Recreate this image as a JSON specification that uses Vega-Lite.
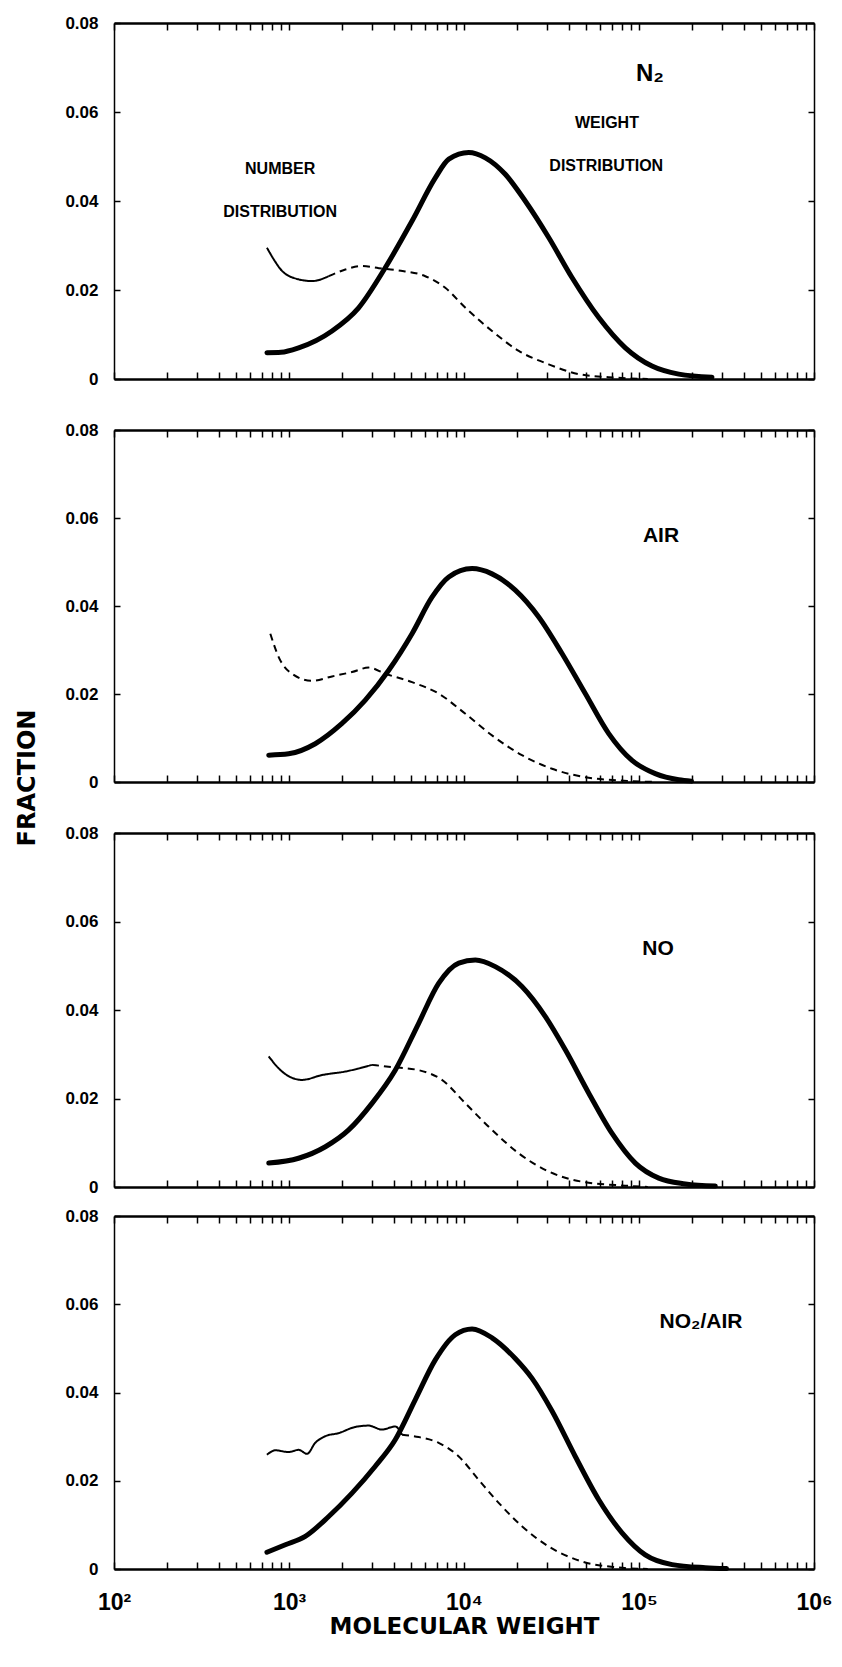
{
  "$schema": "https://vega.github.io/schema/vega-lite/v6.json",
  "background": "white",
  "padding": {"left": 15, "top": 14, "right": 5, "bottom": 5},
  "title": {"text": "FRACTION", "orient": "left", "anchor": "middle", "font": "DejaVu Sans", "fontSize": 24, "fontWeight": "bold", "color": "black", "offset": 25, "dx": 48},
  "config": {
    "view": {"stroke": null},
    "axis": {"grid": false, "domainColor": "black", "tickColor": "black", "labelColor": "black", "titleColor": "black", "labelFont": "Liberation Sans", "titleFont": "DejaVu Sans", "labelFontWeight": "bold", "titleFontWeight": "bold"},
    "text": {"color": "black"}
  },
  "datasets": {
    "curves": [
      {"gas":"N2","series":"weight","part":"solid","mw":748,"fraction":0.0059},
      {"gas":"N2","series":"weight","part":"solid","mw":900,"fraction":0.0060},
      {"gas":"N2","series":"weight","part":"solid","mw":1135,"fraction":0.0070},
      {"gas":"N2","series":"weight","part":"solid","mw":1762,"fraction":0.0108},
      {"gas":"N2","series":"weight","part":"solid","mw":2500,"fraction":0.016},
      {"gas":"N2","series":"weight","part":"solid","mw":3548,"fraction":0.025},
      {"gas":"N2","series":"weight","part":"solid","mw":5047,"fraction":0.0355},
      {"gas":"N2","series":"weight","part":"solid","mw":6855,"fraction":0.0452},
      {"gas":"N2","series":"weight","part":"solid","mw":8185,"fraction":0.0494},
      {"gas":"N2","series":"weight","part":"solid","mw":10641,"fraction":0.0509},
      {"gas":"N2","series":"weight","part":"solid","mw":13243,"fraction":0.0497},
      {"gas":"N2","series":"weight","part":"solid","mw":17219,"fraction":0.046},
      {"gas":"N2","series":"weight","part":"solid","mw":22387,"fraction":0.040},
      {"gas":"N2","series":"weight","part":"solid","mw":30479,"fraction":0.0318},
      {"gas":"N2","series":"weight","part":"solid","mw":41400,"fraction":0.0228},
      {"gas":"N2","series":"weight","part":"solid","mw":58884,"fraction":0.0138},
      {"gas":"N2","series":"weight","part":"solid","mw":83560,"fraction":0.0070},
      {"gas":"N2","series":"weight","part":"solid","mw":118577,"fraction":0.0029},
      {"gas":"N2","series":"weight","part":"solid","mw":168655,"fraction":0.0011},
      {"gas":"N2","series":"weight","part":"solid","mw":261216,"fraction":0.0004},
      {"gas":"N2","series":"number","part":"solid","mw":748,"fraction":0.0295},
      {"gas":"N2","series":"number","part":"solid","mw":830,"fraction":0.0265},
      {"gas":"N2","series":"number","part":"solid","mw":912,"fraction":0.0243},
      {"gas":"N2","series":"number","part":"solid","mw":1135,"fraction":0.0224},
      {"gas":"N2","series":"number","part":"solid","mw":1352,"fraction":0.022},
      {"gas":"N2","series":"number","part":"solid","mw":1686,"fraction":0.0231},
      {"gas":"N2","series":"number","part":"dashed","mw":1686,"fraction":0.0231},
      {"gas":"N2","series":"number","part":"dashed","mw":2099,"fraction":0.0246},
      {"gas":"N2","series":"number","part":"dashed","mw":2612,"fraction":0.0254},
      {"gas":"N2","series":"number","part":"dashed","mw":3258,"fraction":0.0249},
      {"gas":"N2","series":"number","part":"dashed","mw":4236,"fraction":0.0244},
      {"gas":"N2","series":"number","part":"dashed","mw":6012,"fraction":0.0231},
      {"gas":"N2","series":"number","part":"dashed","mw":7816,"fraction":0.0205},
      {"gas":"N2","series":"number","part":"dashed","mw":10186,"fraction":0.016},
      {"gas":"N2","series":"number","part":"dashed","mw":14454,"fraction":0.0108},
      {"gas":"N2","series":"number","part":"dashed","mw":20559,"fraction":0.0063},
      {"gas":"N2","series":"number","part":"dashed","mw":30479,"fraction":0.0033},
      {"gas":"N2","series":"number","part":"dashed","mw":45186,"fraction":0.0011},
      {"gas":"N2","series":"number","part":"dashed","mw":73282,"fraction":0.0003},
      {"gas":"N2","series":"number","part":"dashed","mw":112202,"fraction":0.0},
      {"gas":"AIR","series":"weight","part":"solid","mw":766,"fraction":0.0061},
      {"gas":"AIR","series":"weight","part":"solid","mw":995,"fraction":0.0064},
      {"gas":"AIR","series":"weight","part":"solid","mw":1413,"fraction":0.0087},
      {"gas":"AIR","series":"weight","part":"solid","mw":2009,"fraction":0.0133},
      {"gas":"AIR","series":"weight","part":"solid","mw":2729,"fraction":0.0186},
      {"gas":"AIR","series":"weight","part":"solid","mw":3715,"fraction":0.0254},
      {"gas":"AIR","series":"weight","part":"solid","mw":5047,"fraction":0.0337},
      {"gas":"AIR","series":"weight","part":"solid","mw":6561,"fraction":0.042},
      {"gas":"AIR","series":"weight","part":"solid","mw":8185,"fraction":0.0466},
      {"gas":"AIR","series":"weight","part":"solid","mw":11117,"fraction":0.0485},
      {"gas":"AIR","series":"weight","part":"solid","mw":14454,"fraction":0.0473},
      {"gas":"AIR","series":"weight","part":"solid","mw":19634,"fraction":0.0436},
      {"gas":"AIR","series":"weight","part":"solid","mw":26730,"fraction":0.0375},
      {"gas":"AIR","series":"weight","part":"solid","mw":36308,"fraction":0.0292},
      {"gas":"AIR","series":"weight","part":"solid","mw":49317,"fraction":0.0201},
      {"gas":"AIR","series":"weight","part":"solid","mw":67143,"fraction":0.011},
      {"gas":"AIR","series":"weight","part":"solid","mw":91201,"fraction":0.0049},
      {"gas":"AIR","series":"weight","part":"solid","mw":123880,"fraction":0.0019},
      {"gas":"AIR","series":"weight","part":"solid","mw":168655,"fraction":0.0005},
      {"gas":"AIR","series":"weight","part":"solid","mw":199526,"fraction":0.0002},
      {"gas":"AIR","series":"number","part":"dashed","mw":782,"fraction":0.0337},
      {"gas":"AIR","series":"number","part":"dashed","mw":873,"fraction":0.0284},
      {"gas":"AIR","series":"number","part":"dashed","mw":1040,"fraction":0.0246},
      {"gas":"AIR","series":"number","part":"dashed","mw":1352,"fraction":0.023},
      {"gas":"AIR","series":"number","part":"dashed","mw":1762,"fraction":0.024},
      {"gas":"AIR","series":"number","part":"dashed","mw":2291,"fraction":0.025},
      {"gas":"AIR","series":"number","part":"dashed","mw":2851,"fraction":0.026},
      {"gas":"AIR","series":"number","part":"dashed","mw":3548,"fraction":0.0246},
      {"gas":"AIR","series":"number","part":"dashed","mw":5047,"fraction":0.0227},
      {"gas":"AIR","series":"number","part":"dashed","mw":7161,"fraction":0.0201},
      {"gas":"AIR","series":"number","part":"dashed","mw":10186,"fraction":0.0155},
      {"gas":"AIR","series":"number","part":"dashed","mw":14454,"fraction":0.0106},
      {"gas":"AIR","series":"number","part":"dashed","mw":21429,"fraction":0.0061},
      {"gas":"AIR","series":"number","part":"dashed","mw":31842,"fraction":0.003},
      {"gas":"AIR","series":"number","part":"dashed","mw":49317,"fraction":0.0011},
      {"gas":"AIR","series":"number","part":"dashed","mw":91201,"fraction":0.0002},
      {"gas":"AIR","series":"number","part":"dashed","mw":125893,"fraction":0.0},
      {"gas":"NO","series":"weight","part":"solid","mw":766,"fraction":0.0054},
      {"gas":"NO","series":"weight","part":"solid","mw":1135,"fraction":0.0065},
      {"gas":"NO","series":"weight","part":"solid","mw":1614,"fraction":0.0091},
      {"gas":"NO","series":"weight","part":"solid","mw":2193,"fraction":0.0129},
      {"gas":"NO","series":"weight","part":"solid","mw":2979,"fraction":0.0189},
      {"gas":"NO","series":"weight","part":"solid","mw":4046,"fraction":0.0264},
      {"gas":"NO","series":"weight","part":"solid","mw":5508,"fraction":0.037},
      {"gas":"NO","series":"weight","part":"solid","mw":7161,"fraction":0.046},
      {"gas":"NO","series":"weight","part":"solid","mw":9333,"fraction":0.0506},
      {"gas":"NO","series":"weight","part":"solid","mw":11614,"fraction":0.0513},
      {"gas":"NO","series":"weight","part":"solid","mw":15101,"fraction":0.0498},
      {"gas":"NO","series":"weight","part":"solid","mw":21429,"fraction":0.0453},
      {"gas":"NO","series":"weight","part":"solid","mw":29174,"fraction":0.0385},
      {"gas":"NO","series":"weight","part":"solid","mw":37931,"fraction":0.031},
      {"gas":"NO","series":"weight","part":"solid","mw":51642,"fraction":0.0212},
      {"gas":"NO","series":"weight","part":"solid","mw":70146,"fraction":0.0121},
      {"gas":"NO","series":"weight","part":"solid","mw":95280,"fraction":0.0054},
      {"gas":"NO","series":"weight","part":"solid","mw":129718,"fraction":0.002},
      {"gas":"NO","series":"weight","part":"solid","mw":184077,"fraction":0.0007},
      {"gas":"NO","series":"weight","part":"solid","mw":272898,"fraction":0.0002},
      {"gas":"NO","series":"number","part":"solid","mw":766,"fraction":0.0295},
      {"gas":"NO","series":"number","part":"solid","mw":912,"fraction":0.0261},
      {"gas":"NO","series":"number","part":"solid","mw":1186,"fraction":0.0242},
      {"gas":"NO","series":"number","part":"solid","mw":1545,"fraction":0.0253},
      {"gas":"NO","series":"number","part":"solid","mw":2099,"fraction":0.0261},
      {"gas":"NO","series":"number","part":"solid","mw":2979,"fraction":0.0276},
      {"gas":"NO","series":"number","part":"dashed","mw":2979,"fraction":0.0276},
      {"gas":"NO","series":"number","part":"dashed","mw":3882,"fraction":0.0271},
      {"gas":"NO","series":"number","part":"dashed","mw":5508,"fraction":0.0264},
      {"gas":"NO","series":"number","part":"dashed","mw":7482,"fraction":0.0242},
      {"gas":"NO","series":"number","part":"dashed","mw":10186,"fraction":0.0189},
      {"gas":"NO","series":"number","part":"dashed","mw":14454,"fraction":0.0129},
      {"gas":"NO","series":"number","part":"dashed","mw":20559,"fraction":0.0076},
      {"gas":"NO","series":"number","part":"dashed","mw":30479,"fraction":0.0035},
      {"gas":"NO","series":"number","part":"dashed","mw":47206,"fraction":0.0012},
      {"gas":"NO","series":"number","part":"dashed","mw":83560,"fraction":0.0003},
      {"gas":"NO","series":"number","part":"dashed","mw":112202,"fraction":0.0},
      {"gas":"NO2/AIR","series":"weight","part":"solid","mw":748,"fraction":0.0038},
      {"gas":"NO2/AIR","series":"weight","part":"solid","mw":953,"fraction":0.0055},
      {"gas":"NO2/AIR","series":"weight","part":"solid","mw":1239,"fraction":0.0074},
      {"gas":"NO2/AIR","series":"weight","part":"solid","mw":1686,"fraction":0.0119},
      {"gas":"NO2/AIR","series":"weight","part":"solid","mw":2291,"fraction":0.0172},
      {"gas":"NO2/AIR","series":"weight","part":"solid","mw":3112,"fraction":0.0233},
      {"gas":"NO2/AIR","series":"weight","part":"solid","mw":4046,"fraction":0.0293},
      {"gas":"NO2/AIR","series":"weight","part":"solid","mw":5272,"fraction":0.0384},
      {"gas":"NO2/AIR","series":"weight","part":"solid","mw":6855,"fraction":0.0474},
      {"gas":"NO2/AIR","series":"weight","part":"solid","mw":8913,"fraction":0.0531},
      {"gas":"NO2/AIR","series":"weight","part":"solid","mw":11117,"fraction":0.0544},
      {"gas":"NO2/AIR","series":"weight","part":"solid","mw":14454,"fraction":0.0524},
      {"gas":"NO2/AIR","series":"weight","part":"solid","mw":19634,"fraction":0.0477},
      {"gas":"NO2/AIR","series":"weight","part":"solid","mw":24491,"fraction":0.0432},
      {"gas":"NO2/AIR","series":"weight","part":"solid","mw":31842,"fraction":0.0358},
      {"gas":"NO2/AIR","series":"weight","part":"solid","mw":43251,"fraction":0.0255},
      {"gas":"NO2/AIR","series":"weight","part":"solid","mw":58884,"fraction":0.0157},
      {"gas":"NO2/AIR","series":"weight","part":"solid","mw":79983,"fraction":0.0082},
      {"gas":"NO2/AIR","series":"weight","part":"solid","mw":108643,"fraction":0.0032},
      {"gas":"NO2/AIR","series":"weight","part":"solid","mw":154525,"fraction":0.001},
      {"gas":"NO2/AIR","series":"weight","part":"solid","mw":239332,"fraction":0.0003},
      {"gas":"NO2/AIR","series":"weight","part":"solid","mw":316228,"fraction":0.0001},
      {"gas":"NO2/AIR","series":"number","part":"solid","mw":748,"fraction":0.0259},
      {"gas":"NO2/AIR","series":"number","part":"solid","mw":836,"fraction":0.0269},
      {"gas":"NO2/AIR","series":"number","part":"solid","mw":995,"fraction":0.0265},
      {"gas":"NO2/AIR","series":"number","part":"solid","mw":1135,"fraction":0.027},
      {"gas":"NO2/AIR","series":"number","part":"solid","mw":1268,"fraction":0.0261},
      {"gas":"NO2/AIR","series":"number","part":"solid","mw":1413,"fraction":0.0286},
      {"gas":"NO2/AIR","series":"number","part":"solid","mw":1614,"fraction":0.0301},
      {"gas":"NO2/AIR","series":"number","part":"solid","mw":1923,"fraction":0.0308},
      {"gas":"NO2/AIR","series":"number","part":"solid","mw":2393,"fraction":0.0322},
      {"gas":"NO2/AIR","series":"number","part":"solid","mw":2851,"fraction":0.0325},
      {"gas":"NO2/AIR","series":"number","part":"solid","mw":3396,"fraction":0.0316},
      {"gas":"NO2/AIR","series":"number","part":"solid","mw":4046,"fraction":0.0323},
      {"gas":"NO2/AIR","series":"number","part":"solid","mw":4426,"fraction":0.0304},
      {"gas":"NO2/AIR","series":"number","part":"dashed","mw":4426,"fraction":0.0304},
      {"gas":"NO2/AIR","series":"number","part":"dashed","mw":5508,"fraction":0.0299},
      {"gas":"NO2/AIR","series":"number","part":"dashed","mw":7161,"fraction":0.0286},
      {"gas":"NO2/AIR","series":"number","part":"dashed","mw":9333,"fraction":0.0255},
      {"gas":"NO2/AIR","series":"number","part":"dashed","mw":12134,"fraction":0.0202},
      {"gas":"NO2/AIR","series":"number","part":"dashed","mw":15776,"fraction":0.015},
      {"gas":"NO2/AIR","series":"number","part":"dashed","mw":21429,"fraction":0.0097},
      {"gas":"NO2/AIR","series":"number","part":"dashed","mw":30479,"fraction":0.0051},
      {"gas":"NO2/AIR","series":"number","part":"dashed","mw":47206,"fraction":0.0017},
      {"gas":"NO2/AIR","series":"number","part":"dashed","mw":73282,"fraction":0.0004},
      {"gas":"NO2/AIR","series":"number","part":"dashed","mw":112202,"fraction":0.0}
    ],
    "labels": [
      {"gas":"N2","kind":"gas","text":"N₂","mw":115600,"fraction":0.0685},
      {"gas":"N2","kind":"note","text":"WEIGHT","mw":65600,"fraction":0.0575},
      {"gas":"N2","kind":"note","text":"DISTRIBUTION","mw":65000,"fraction":0.0479},
      {"gas":"N2","kind":"note","text":"NUMBER","mw":890,"fraction":0.0472},
      {"gas":"N2","kind":"note","text":"DISTRIBUTION","mw":890,"fraction":0.0375},
      {"gas":"AIR","kind":"gas","text":"AIR","mw":133600,"fraction":0.0559},
      {"gas":"NO","kind":"gas","text":"NO","mw":128600,"fraction":0.0538},
      {"gas":"NO2/AIR","kind":"gas","text":"NO₂/AIR","mw":226000,"fraction":0.056}
    ]
  },
  "vconcat": [
    {
      "spacing": 33,
      "vconcat": [
        {
          "width": 700, "height": 356,
          "layer": [
            {"data": {"name": "curves"}, "transform": [{"filter": "datum.gas === 'N2' && datum.series === 'weight'"}],
             "mark": {"type": "line", "color": "black", "strokeWidth": 5, "strokeCap": "round", "interpolate": "monotone"},
             "encoding": {
               "x": {"field": "mw", "type": "quantitative", "scale": {"type": "log", "domain": [100, 1000000], "nice": false},
                     "axis": {"orient": "bottom", "values": [100,200,300,400,500,600,700,800,900,1000,2000,3000,4000,5000,6000,7000,8000,9000,10000,20000,30000,40000,50000,60000,70000,80000,90000,100000,200000,300000,400000,500000,600000,700000,800000,900000,1000000], "tickSize": -7, "tickWidth": 1.5, "domainWidth": 2.5, "labels": false, "title": null}},
               "y": {"field": "fraction", "type": "quantitative", "scale": {"domain": [0, 0.08], "nice": false, "zero": false},
                     "axis": {"orient": "left", "values": [0, 0.02, 0.04, 0.06, 0.08], "tickSize": -6, "tickWidth": 1.5, "domainWidth": 1.5, "labelExpr": "datum.value == 0 ? '0' : format(datum.value, '.2f')", "labelFontSize": 17, "labelPadding": 22, "title": null}}
             }},
            {"data": {"name": "curves"}, "transform": [{"filter": "datum.gas === 'N2' && datum.series === 'number'"}],
             "mark": {"type": "line", "color": "black", "strokeWidth": 2, "interpolate": "monotone"},
             "encoding": {
               "x": {"field": "mw", "type": "quantitative", "scale": {"type": "log", "domain": [100, 1000000], "nice": false},
                     "axis": {"orient": "top", "values": [100,200,300,400,500,600,700,800,900,1000,2000,3000,4000,5000,6000,7000,8000,9000,10000,20000,30000,40000,50000,60000,70000,80000,90000,100000,200000,300000,400000,500000,600000,700000,800000,900000,1000000], "tickSize": -7, "tickWidth": 1.5, "domainWidth": 2.5, "labels": false, "title": null}},
               "y": {"field": "fraction", "type": "quantitative", "scale": {"domain": [0, 0.08], "nice": false, "zero": false},
                     "axis": {"orient": "right", "values": [0, 0.02, 0.04, 0.06, 0.08], "tickSize": -6, "tickWidth": 1.5, "domainWidth": 1.5, "labels": false, "title": null}},
               "strokeDash": {"field": "part", "type": "nominal", "scale": {"domain": ["solid", "dashed"], "range": [[1, 0], [7, 5]]}, "legend": null}
             }},
            {"data": {"name": "labels"}, "transform": [{"filter": "datum.gas === 'N2' && datum.kind === 'gas'"}],
             "mark": {"type": "text", "font": "Liberation Sans", "fontWeight": "bold", "fontSize": 24, "align": "center", "baseline": "middle"},
             "encoding": {
               "x": {"field": "mw", "type": "quantitative", "scale": {"type": "log", "domain": [100, 1000000], "nice": false}, "axis": null},
               "y": {"field": "fraction", "type": "quantitative", "scale": {"domain": [0, 0.08], "nice": false, "zero": false}, "axis": null},
               "text": {"field": "text"}
             }},
            {"data": {"name": "labels"}, "transform": [{"filter": "datum.gas === 'N2' && datum.kind === 'note'"}],
             "mark": {"type": "text", "font": "Liberation Sans", "fontWeight": "bold", "fontSize": 16, "align": "center", "baseline": "middle"},
             "encoding": {
               "x": {"field": "mw", "type": "quantitative", "scale": {"type": "log", "domain": [100, 1000000], "nice": false}, "axis": null},
               "y": {"field": "fraction", "type": "quantitative", "scale": {"domain": [0, 0.08], "nice": false, "zero": false}, "axis": null},
               "text": {"field": "text"}
             }}
          ],
          "resolve": {"axis": {"x": "independent", "y": "independent"}}
        },
        {
          "width": 700, "height": 352,
          "layer": [
            {"data": {"name": "curves"}, "transform": [{"filter": "datum.gas === 'AIR' && datum.series === 'weight'"}],
             "mark": {"type": "line", "color": "black", "strokeWidth": 5, "strokeCap": "round", "interpolate": "monotone"},
             "encoding": {
               "x": {"field": "mw", "type": "quantitative", "scale": {"type": "log", "domain": [100, 1000000], "nice": false},
                     "axis": {"orient": "bottom", "values": [100,200,300,400,500,600,700,800,900,1000,2000,3000,4000,5000,6000,7000,8000,9000,10000,20000,30000,40000,50000,60000,70000,80000,90000,100000,200000,300000,400000,500000,600000,700000,800000,900000,1000000], "tickSize": -7, "tickWidth": 1.5, "domainWidth": 2.5, "labels": false, "title": null}},
               "y": {"field": "fraction", "type": "quantitative", "scale": {"domain": [0, 0.08], "nice": false, "zero": false},
                     "axis": {"orient": "left", "values": [0, 0.02, 0.04, 0.06, 0.08], "tickSize": -6, "tickWidth": 1.5, "domainWidth": 1.5, "labelExpr": "datum.value == 0 ? '0' : format(datum.value, '.2f')", "labelFontSize": 17, "labelPadding": 22, "title": null}}
             }},
            {"data": {"name": "curves"}, "transform": [{"filter": "datum.gas === 'AIR' && datum.series === 'number'"}],
             "mark": {"type": "line", "color": "black", "strokeWidth": 2, "interpolate": "monotone"},
             "encoding": {
               "x": {"field": "mw", "type": "quantitative", "scale": {"type": "log", "domain": [100, 1000000], "nice": false},
                     "axis": {"orient": "top", "values": [100,200,300,400,500,600,700,800,900,1000,2000,3000,4000,5000,6000,7000,8000,9000,10000,20000,30000,40000,50000,60000,70000,80000,90000,100000,200000,300000,400000,500000,600000,700000,800000,900000,1000000], "tickSize": -7, "tickWidth": 1.5, "domainWidth": 2.5, "labels": false, "title": null}},
               "y": {"field": "fraction", "type": "quantitative", "scale": {"domain": [0, 0.08], "nice": false, "zero": false},
                     "axis": {"orient": "right", "values": [0, 0.02, 0.04, 0.06, 0.08], "tickSize": -6, "tickWidth": 1.5, "domainWidth": 1.5, "labels": false, "title": null}},
               "strokeDash": {"field": "part", "type": "nominal", "scale": {"domain": ["solid", "dashed"], "range": [[1, 0], [7, 5]]}, "legend": null}
             }},
            {"data": {"name": "labels"}, "transform": [{"filter": "datum.gas === 'AIR' && datum.kind === 'gas'"}],
             "mark": {"type": "text", "font": "Liberation Sans", "fontWeight": "bold", "fontSize": 21, "align": "center", "baseline": "middle"},
             "encoding": {
               "x": {"field": "mw", "type": "quantitative", "scale": {"type": "log", "domain": [100, 1000000], "nice": false}, "axis": null},
               "y": {"field": "fraction", "type": "quantitative", "scale": {"domain": [0, 0.08], "nice": false, "zero": false}, "axis": null},
               "text": {"field": "text"}
             }}
          ],
          "resolve": {"axis": {"x": "independent", "y": "independent"}}
        }
      ]
    },
    {
      "spacing": 10,
      "vconcat": [
        {
          "width": 700, "height": 354,
          "layer": [
            {"data": {"name": "curves"}, "transform": [{"filter": "datum.gas === 'NO' && datum.series === 'weight'"}],
             "mark": {"type": "line", "color": "black", "strokeWidth": 5, "strokeCap": "round", "interpolate": "monotone"},
             "encoding": {
               "x": {"field": "mw", "type": "quantitative", "scale": {"type": "log", "domain": [100, 1000000], "nice": false},
                     "axis": {"orient": "bottom", "values": [100,200,300,400,500,600,700,800,900,1000,2000,3000,4000,5000,6000,7000,8000,9000,10000,20000,30000,40000,50000,60000,70000,80000,90000,100000,200000,300000,400000,500000,600000,700000,800000,900000,1000000], "tickSize": -7, "tickWidth": 1.5, "domainWidth": 2.5, "labels": false, "title": null}},
               "y": {"field": "fraction", "type": "quantitative", "scale": {"domain": [0, 0.08], "nice": false, "zero": false},
                     "axis": {"orient": "left", "values": [0, 0.02, 0.04, 0.06, 0.08], "tickSize": -6, "tickWidth": 1.5, "domainWidth": 1.5, "labelExpr": "datum.value == 0 ? '0' : format(datum.value, '.2f')", "labelFontSize": 17, "labelPadding": 22, "title": null}}
             }},
            {"data": {"name": "curves"}, "transform": [{"filter": "datum.gas === 'NO' && datum.series === 'number'"}],
             "mark": {"type": "line", "color": "black", "strokeWidth": 2, "interpolate": "monotone"},
             "encoding": {
               "x": {"field": "mw", "type": "quantitative", "scale": {"type": "log", "domain": [100, 1000000], "nice": false},
                     "axis": {"orient": "top", "values": [100,200,300,400,500,600,700,800,900,1000,2000,3000,4000,5000,6000,7000,8000,9000,10000,20000,30000,40000,50000,60000,70000,80000,90000,100000,200000,300000,400000,500000,600000,700000,800000,900000,1000000], "tickSize": -7, "tickWidth": 1.5, "domainWidth": 2.5, "labels": false, "title": null}},
               "y": {"field": "fraction", "type": "quantitative", "scale": {"domain": [0, 0.08], "nice": false, "zero": false},
                     "axis": {"orient": "right", "values": [0, 0.02, 0.04, 0.06, 0.08], "tickSize": -6, "tickWidth": 1.5, "domainWidth": 1.5, "labels": false, "title": null}},
               "strokeDash": {"field": "part", "type": "nominal", "scale": {"domain": ["solid", "dashed"], "range": [[1, 0], [7, 5]]}, "legend": null}
             }},
            {"data": {"name": "labels"}, "transform": [{"filter": "datum.gas === 'NO' && datum.kind === 'gas'"}],
             "mark": {"type": "text", "font": "Liberation Sans", "fontWeight": "bold", "fontSize": 21, "align": "center", "baseline": "middle"},
             "encoding": {
               "x": {"field": "mw", "type": "quantitative", "scale": {"type": "log", "domain": [100, 1000000], "nice": false}, "axis": null},
               "y": {"field": "fraction", "type": "quantitative", "scale": {"domain": [0, 0.08], "nice": false, "zero": false}, "axis": null},
               "text": {"field": "text"}
             }}
          ],
          "resolve": {"axis": {"x": "independent", "y": "independent"}}
        },
        {
          "width": 700, "height": 353,
          "layer": [
            {"data": {"name": "curves"}, "transform": [{"filter": "datum.gas === 'NO2/AIR' && datum.series === 'weight'"}],
             "mark": {"type": "line", "color": "black", "strokeWidth": 5, "strokeCap": "round", "interpolate": "monotone"},
             "encoding": {
               "x": {"field": "mw", "type": "quantitative", "scale": {"type": "log", "domain": [100, 1000000], "nice": false},
                     "axis": {"orient": "bottom", "values": [100,200,300,400,500,600,700,800,900,1000,2000,3000,4000,5000,6000,7000,8000,9000,10000,20000,30000,40000,50000,60000,70000,80000,90000,100000,200000,300000,400000,500000,600000,700000,800000,900000,1000000], "tickSize": -7, "tickWidth": 1.5, "domainWidth": 2.5,
                              "labelExpr": "datum.value == 100 ? '10²' : datum.value == 1000 ? '10³' : datum.value == 10000 ? '10⁴' : datum.value == 100000 ? '10⁵' : datum.value == 1000000 ? '10⁶' : ''",
                              "labelFontSize": 23, "labelPadding": 29, "labelFlush": false, "labelOverlap": false,
                              "title": "MOLECULAR WEIGHT", "titleFontSize": 23, "titlePadding": 1}},
               "y": {"field": "fraction", "type": "quantitative", "scale": {"domain": [0, 0.08], "nice": false, "zero": false},
                     "axis": {"orient": "left", "values": [0, 0.02, 0.04, 0.06, 0.08], "tickSize": -6, "tickWidth": 1.5, "domainWidth": 1.5, "labelExpr": "datum.value == 0 ? '0' : format(datum.value, '.2f')", "labelFontSize": 17, "labelPadding": 22, "title": null}}
             }},
            {"data": {"name": "curves"}, "transform": [{"filter": "datum.gas === 'NO2/AIR' && datum.series === 'number'"}],
             "mark": {"type": "line", "color": "black", "strokeWidth": 2, "interpolate": "monotone"},
             "encoding": {
               "x": {"field": "mw", "type": "quantitative", "scale": {"type": "log", "domain": [100, 1000000], "nice": false},
                     "axis": {"orient": "top", "values": [100,200,300,400,500,600,700,800,900,1000,2000,3000,4000,5000,6000,7000,8000,9000,10000,20000,30000,40000,50000,60000,70000,80000,90000,100000,200000,300000,400000,500000,600000,700000,800000,900000,1000000], "tickSize": -7, "tickWidth": 1.5, "domainWidth": 2.5, "labels": false, "title": null}},
               "y": {"field": "fraction", "type": "quantitative", "scale": {"domain": [0, 0.08], "nice": false, "zero": false},
                     "axis": {"orient": "right", "values": [0, 0.02, 0.04, 0.06, 0.08], "tickSize": -6, "tickWidth": 1.5, "domainWidth": 1.5, "labels": false, "title": null}},
               "strokeDash": {"field": "part", "type": "nominal", "scale": {"domain": ["solid", "dashed"], "range": [[1, 0], [7, 5]]}, "legend": null}
             }},
            {"data": {"name": "labels"}, "transform": [{"filter": "datum.gas === 'NO2/AIR' && datum.kind === 'gas'"}],
             "mark": {"type": "text", "font": "Liberation Sans", "fontWeight": "bold", "fontSize": 21, "align": "center", "baseline": "middle"},
             "encoding": {
               "x": {"field": "mw", "type": "quantitative", "scale": {"type": "log", "domain": [100, 1000000], "nice": false}, "axis": null},
               "y": {"field": "fraction", "type": "quantitative", "scale": {"domain": [0, 0.08], "nice": false, "zero": false}, "axis": null},
               "text": {"field": "text"}
             }}
          ],
          "resolve": {"axis": {"x": "independent", "y": "independent"}}
        }
      ]
    }
  ],
  "spacing": 32
}
